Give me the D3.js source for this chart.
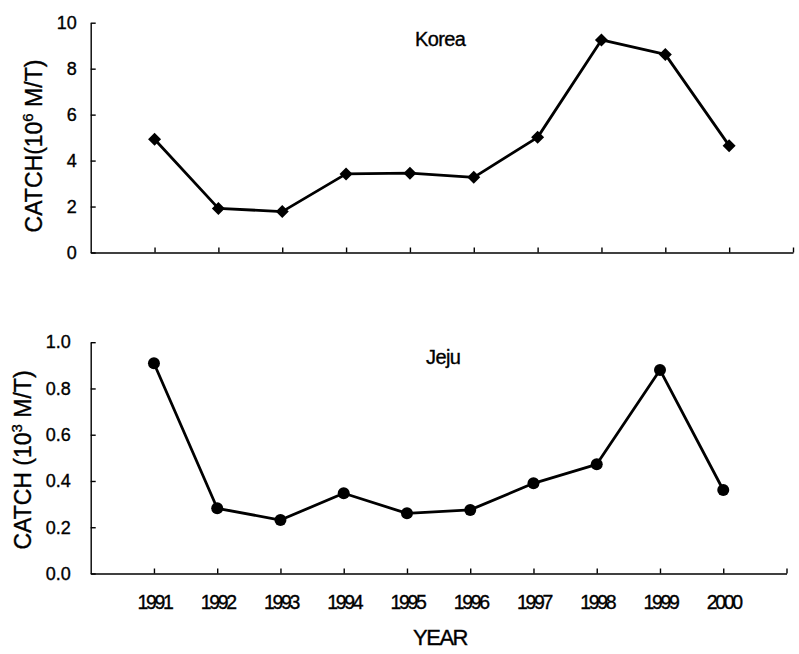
<!DOCTYPE html>
<html>
<head>
<meta charset="utf-8">
<script src="https://cdn.jsdelivr.net/npm/d3@7"></script>
<style>
  html, body { margin: 0; padding: 0; background: #fff; }
  svg { display: block; font-family: "Liberation Sans", Arial, sans-serif; }
  .axis path, .axis line { stroke: #000; stroke-width: 1.4; }
  .axis text, .lbl { fill: #000; stroke: #000; stroke-width: 0.35px; }
</style>
</head>
<body>
<svg id="chart" width="799" height="654"></svg>
<script>
// Annual catch, 1991-2000
const years = [1991, 1992, 1993, 1994, 1995, 1996, 1997, 1998, 1999, 2000];
const koreaCatch = [4.93, 1.92, 1.78, 3.42, 3.45, 3.27, 5.01, 9.25, 8.62, 4.65];
const jejuCatch = [0.909, 0.282, 0.231, 0.347, 0.260, 0.275, 0.390, 0.472, 0.880, 0.361];
const yearTicks = [1991, 1992, 1993, 1994, 1995, 1996, 1997, 1998, 1999, 2000, 2001];
const koreaTicks = [0, 2, 4, 6, 8, 10];
const jejuTicks = [0, 0.2, 0.4, 0.6, 0.8, 1.0];

const svg = d3.select("#chart");

function panel(opts) {
  const x = d3.scaleLinear().domain([1990, 2001]).range(opts.xRange);
  const y = d3.scaleLinear().domain(opts.yDomain).range(opts.yRange);
  const g = svg.append("g");

  // y axis, ticks pointing into the plot
  const ya = g.append("g").attr("class", "axis")
    .attr("transform", `translate(${opts.xRange[0]},0)`)
    .call(d3.axisLeft(y).tickValues(opts.yTicks).tickFormat(opts.yFormat)
      .tickSizeInner(-5).tickSizeOuter(0).tickPadding(opts.yPad));
  ya.selectAll("text").style("font-size", "18px");

  // x axis along the zero line
  const xa = g.append("g").attr("class", "axis")
    .attr("transform", `translate(0,${opts.yRange[0]})`)
    .call(d3.axisBottom(x).tickValues(yearTicks)
      .tickFormat(d => (opts.showYears && d <= 2000) ? String(d) : "")
      .tickSizeInner(-5).tickSizeOuter(0).tickPadding(22));
  xa.selectAll("text")
    .style("font-size", "19.5px")
    .style("letter-spacing", "-2.4px");

  const pts = years.map((yr, i) => [x(yr), y(opts.values[i])]);

  g.append("path")
    .attr("d", d3.line()(pts))
    .attr("fill", "none")
    .attr("stroke", "#000")
    .attr("stroke-width", 2.8)
    .attr("stroke-linejoin", "round");

  if (opts.marker === "diamond") {
    g.selectAll(".mk").data(pts).join("path")
      .attr("d", d => `M${d[0]},${d[1] - 6.5}L${d[0] + 6.5},${d[1]}L${d[0]},${d[1] + 6.5}L${d[0] - 6.5},${d[1]}Z`)
      .attr("fill", "#000");
  } else {
    g.selectAll(".mk").data(pts).join("circle")
      .attr("cx", d => d[0]).attr("cy", d => d[1]).attr("r", 6)
      .attr("fill", "#000");
  }

  g.append("text").attr("class", "lbl")
    .attr("x", opts.nameX).attr("y", opts.nameY)
    .style("font-size", "20px")
    .style("letter-spacing", "-0.6px")
    .text(opts.name);

  const t = g.append("text").attr("class", "lbl")
    .attr("transform", `translate(${opts.titleX},${opts.titleY}) rotate(-90)`)
    .attr("text-anchor", "middle")
    .style("font-size", "23px");
  t.append("tspan").text(opts.titlePre);
  t.append("tspan").attr("dy", -9).style("font-size", "15px").text(opts.titleSup);
  t.append("tspan").attr("dy", 9).text(opts.titlePost);
}

panel({
  xRange: [90.7, 793], yDomain: [0, 10], yRange: [252.5, 22.7],
  yTicks: koreaTicks, yFormat: d3.format("d"), yPad: 14,
  values: koreaCatch, marker: "diamond", showYears: false,
  name: "Korea", nameX: 415, nameY: 46,
  titleX: 42, titleY: 146, titlePre: "CATCH(10", titleSup: "6", titlePost: " M/T)"
});

panel({
  xRange: [90.7, 786.5], yDomain: [0, 1], yRange: [573.5, 342.2],
  yTicks: jejuTicks, yFormat: d3.format(".1f"), yPad: 20,
  values: jejuCatch, marker: "circle", showYears: true,
  name: "Jeju", nameX: 426, nameY: 364,
  titleX: 31, titleY: 460, titlePre: "CATCH (10", titleSup: "3", titlePost: " M/T)"
});

svg.append("text").attr("class", "lbl")
  .attr("x", 440).attr("y", 645)
  .attr("text-anchor", "middle")
  .style("font-size", "22px")
  .style("letter-spacing", "-1.5px")
  .text("YEAR");
</script>
</body>
</html>
